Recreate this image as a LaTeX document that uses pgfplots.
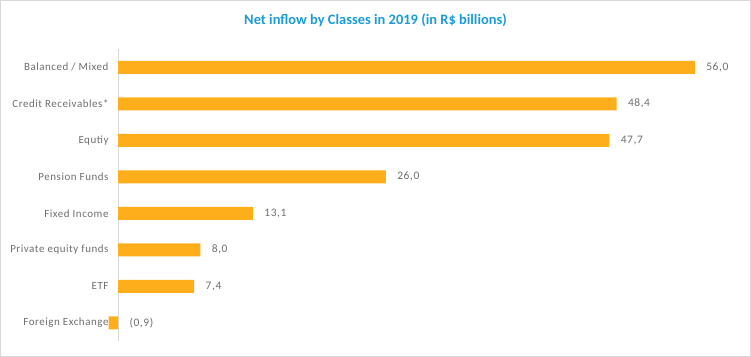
\documentclass[border=0pt]{standalone}
\usepackage{fontspec}
\setmainfont{Carlito}
\newfontfamily\labfont{Carlito}[LetterSpace=5.0]
\usepackage{pgfplots}
\usepackage{pgfplotstable}
\pgfplotsset{compat=1.18}
\definecolor{barc}{HTML}{FFAE1B}
\definecolor{titc}{HTML}{1B9BD7}
\definecolor{labc}{HTML}{6E6E6E}
\definecolor{axc}{HTML}{D9D9D9}
\pgfplotstableread{
i v lx lab
0 56.0 56.0 56,0
1 48.4 48.4 48,4
2 47.7 47.7 47,7
3 26.0 26.0 26,0
4 13.1 13.1 13,1
5 8.0 8.0 8,0
6 7.4 7.4 7,4
7 -0.9 0 (0,9)
}\data
\begin{document}
\begin{tikzpicture}
\path[use as bounding box] (0,0) rectangle (751bp,357bp);
\draw[axc, line width=1bp] (0.5bp,0.5bp) rectangle (750.5bp,356.5bp);
\node[font=\fontsize{14.5}{17}\selectfont\bfseries, text=titc] at (375.5bp,337bp) {Net inflow by Classes in 2019 (in R\$ billions)};
\begin{axis}[at={(118bp,16bp)}, anchor=south west, scale only axis,
  width=618bp, height=292bp, xmin=0, xmax=60, ymin=-0.5, ymax=7.5,
  y dir=reverse, axis x line=none, axis y line*=left,
  axis line style={-, draw=axc, line width=0.8bp},
  clip=false, major tick length=0,
  ytick={0,...,7},
  yticklabels={Balanced / Mixed, Credit Receivables*, Equtiy, Pension Funds, Fixed Income, Private equity funds, ETF, Foreign Exchange},
  yticklabel style={font=\labfont\fontsize{11}{13}\selectfont, text=labc, xshift=-6bp},
]
\addplot[xbar, bar width=13bp, fill=barc, draw=none] table[x=v, y=i] {\data};
\addplot[draw=none, mark=none, nodes near coords, point meta=explicit symbolic,
  nodes near coords style={anchor=west, font=\labfont\fontsize{11.5}{13}\selectfont, text=labc, xshift=8bp}]
  table[x=lx, y=i, meta=lab] {\data};
\end{axis}
\end{tikzpicture}
\end{document}
